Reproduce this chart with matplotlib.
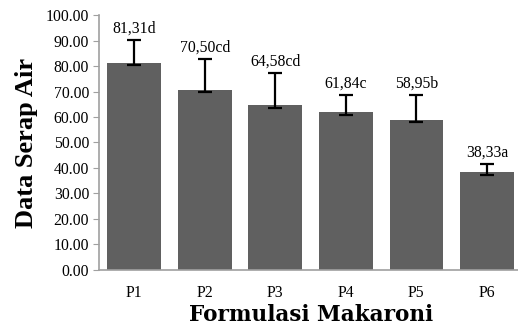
import numpy as np
import matplotlib
matplotlib.use("Agg")
import matplotlib.pyplot as plt

# Data
formulas = ["P1", "P2", "P3", "P4", "P5", "P6"]
serap_air = [81.31, 70.50, 64.58, 61.84, 58.95, 38.33]
err_upper = [90.4, 82.8, 77.3, 68.8, 68.5, 41.5]
err_lower = [80.6, 69.8, 63.7, 60.8, 58.0, 37.2]
labels = ["81,31d", "70,50cd", "64,58cd", "61,84c", "58,95b", "38,33a"]
y_ticks = [0, 10, 20, 30, 40, 50, 60, 70, 80, 90, 100]

plt.rcParams["font.family"] = ["Liberation Serif", "DejaVu Serif"]

fig = plt.figure(figsize=(5.18, 3.36), dpi=100)
ax = fig.add_axes([0.191, 0.197, 0.817, 0.758])

x = np.arange(len(formulas))
vals = np.array(serap_air)
yerr = [vals - np.array(err_lower), np.array(err_upper) - vals]

ax.bar(x, vals, width=0.76, color="#606060", zorder=2)
ax.errorbar(x, vals, yerr=yerr, fmt="none", ecolor="black",
            elinewidth=1.6, capsize=5, capthick=1.6, zorder=3)

for xi, top, lab in zip(x, err_upper, labels):
    ax.text(xi, top + 1.3, lab, ha="center", va="bottom", fontsize=11.3)

ax.set_xlim(-0.5, 5.5)
ax.set_ylim(0, 100)
ax.set_yticks(y_ticks)
ax.set_yticklabels([f"{t:.2f}" for t in y_ticks], fontsize=11.3)
ax.set_xticks(x)
ax.set_xticklabels(formulas, fontsize=11.3)
ax.tick_params(axis="x", length=0, pad=11)
ax.tick_params(axis="y", length=4, color="#a0a0a0", pad=3)

for side in ("top", "right"):
    ax.spines[side].set_visible(False)
for side in ("left", "bottom"):
    ax.spines[side].set_color("#a0a0a0")
    ax.spines[side].set_linewidth(1.2)

ax.set_ylabel("Data Serap Air", fontsize=19, fontweight="bold", labelpad=6)
fig.text(0.6, 0.062, "Formulasi Makaroni", ha="center", va="center",
         fontsize=15.5, fontweight="bold", family=["DejaVu Serif"])

fig.savefig("out.png", dpi=100)
